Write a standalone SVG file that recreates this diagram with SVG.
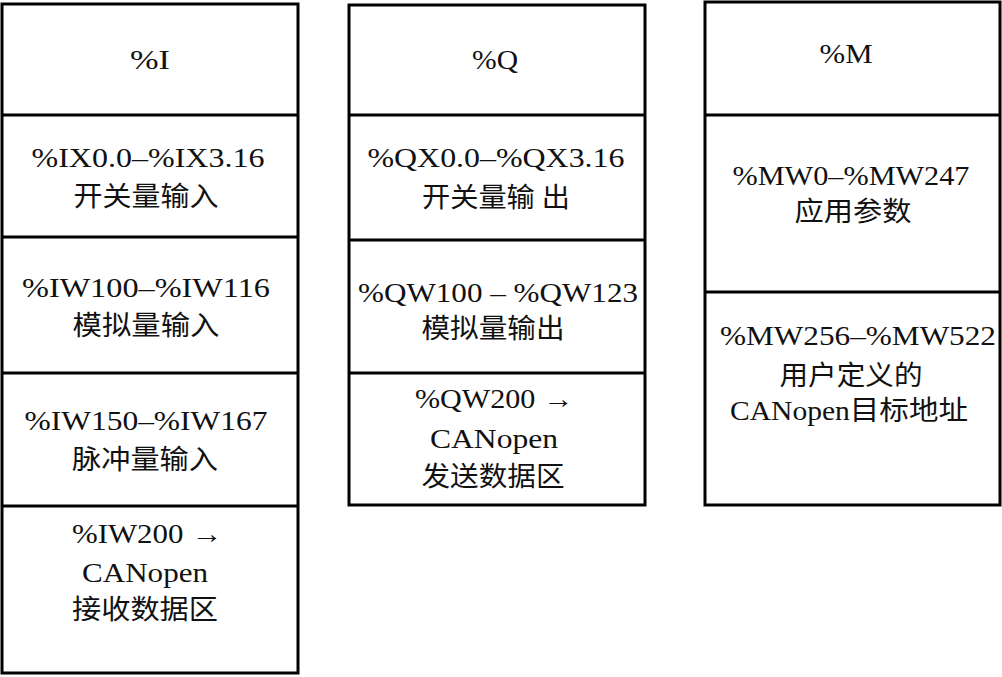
<svg xmlns="http://www.w3.org/2000/svg" width="1002" height="677" viewBox="0 0 1002 677">
<style>
.box{fill:#fff;stroke:#000;stroke-width:3}
.div{stroke:#000;stroke-width:3}
text{font-family:"Liberation Serif","Noto Sans CJK SC",serif;font-size:27px;fill:#111;text-anchor:middle}
</style>
<rect width="1002" height="677" fill="#fff"/>
<g id="col-I">
<rect class="box" x="2" y="4" width="296" height="669"/>
<line class="div" x1="2" y1="115" x2="298" y2="115"/>
<line class="div" x1="2" y1="237" x2="298" y2="237"/>
<line class="div" x1="2" y1="373" x2="298" y2="373"/>
<line class="div" x1="2" y1="506" x2="298" y2="506"/>
<text x="150" y="69" textLength="40" lengthAdjust="spacingAndGlyphs">%I</text>
<text x="148" y="167" textLength="233" lengthAdjust="spacingAndGlyphs">%IX0.0–%IX3.16</text>
<text x="146" y="206" textLength="145" lengthAdjust="spacingAndGlyphs">开关量输入</text>
<text x="146" y="297" textLength="248" lengthAdjust="spacingAndGlyphs">%IW100–%IW116</text>
<text x="146" y="335" textLength="147" lengthAdjust="spacingAndGlyphs">模拟量输入</text>
<text x="146" y="430" textLength="243" lengthAdjust="spacingAndGlyphs">%IW150–%IW167</text>
<text x="145" y="469" textLength="146" lengthAdjust="spacingAndGlyphs">脉冲量输入</text>
<text x="147" y="543" textLength="150" lengthAdjust="spacingAndGlyphs">%IW200 →</text>
<text x="145" y="582" textLength="126" lengthAdjust="spacingAndGlyphs">CANopen</text>
<text x="145" y="619" textLength="146" lengthAdjust="spacingAndGlyphs">接收数据区</text>
</g>
<g id="col-Q">
<rect class="box" x="349" y="5" width="296" height="500"/>
<line class="div" x1="349" y1="115" x2="645" y2="115"/>
<line class="div" x1="349" y1="240" x2="645" y2="240"/>
<line class="div" x1="349" y1="373" x2="645" y2="373"/>
<text x="495" y="69" textLength="46" lengthAdjust="spacingAndGlyphs">%Q</text>
<text x="496" y="167" textLength="257" lengthAdjust="spacingAndGlyphs">%QX0.0–%QX3.16</text>
<text x="496" y="207" textLength="148" lengthAdjust="spacingAndGlyphs">开关量输 出</text>
<text x="498" y="302" textLength="280" lengthAdjust="spacingAndGlyphs">%QW100 – %QW123</text>
<text x="493" y="338" textLength="143" lengthAdjust="spacingAndGlyphs">模拟量输出</text>
<text x="494" y="408" textLength="158" lengthAdjust="spacingAndGlyphs">%QW200 →</text>
<text x="494" y="448" textLength="128" lengthAdjust="spacingAndGlyphs">CANopen</text>
<text x="493" y="486" textLength="143" lengthAdjust="spacingAndGlyphs">发送数据区</text>
</g>
<g id="col-M">
<rect class="box" x="705" y="2" width="295" height="503"/>
<line class="div" x1="705" y1="115" x2="1000" y2="115"/>
<line class="div" x1="705" y1="292" x2="1000" y2="292"/>
<text x="846" y="63" textLength="53" lengthAdjust="spacingAndGlyphs">%M</text>
<text x="851" y="185" textLength="237" lengthAdjust="spacingAndGlyphs">%MW0–%MW247</text>
<text x="853" y="221" textLength="117" lengthAdjust="spacingAndGlyphs">应用参数</text>
<text x="858" y="345" textLength="276" lengthAdjust="spacingAndGlyphs">%MW256–%MW522</text>
<text x="851" y="385" textLength="143" lengthAdjust="spacingAndGlyphs">用户定义的</text>
<text x="849" y="420" textLength="238" lengthAdjust="spacingAndGlyphs">CANopen目标地址</text>
</g>
<g id="connectors"/>
</svg>
